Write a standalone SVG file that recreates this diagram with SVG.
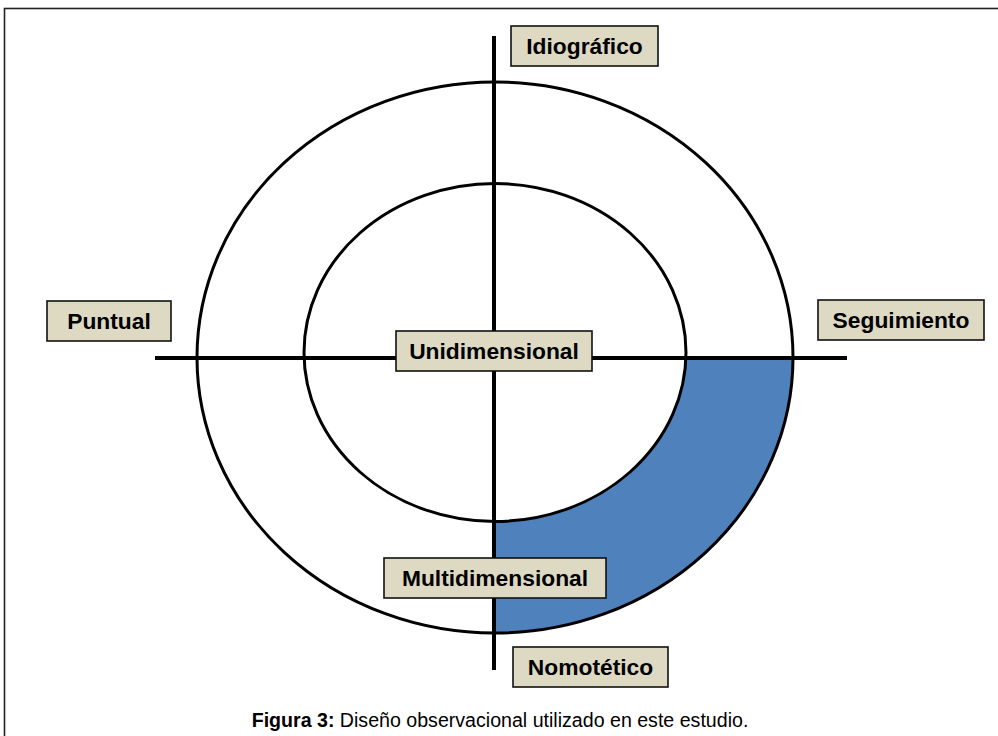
<svg xmlns="http://www.w3.org/2000/svg" width="998" height="736" viewBox="0 0 998 736">
<style>
.lbl rect{fill:#DDD9C3;stroke:#111;stroke-width:1.6}
.lbl text{font-family:"Liberation Sans",Arial,sans-serif;font-weight:bold;font-size:22.8px;fill:#000;text-anchor:middle}
.ax{stroke:#000;stroke-width:4;fill:none}
.ring{stroke:#000;stroke-width:3;fill:none}
</style>
<rect x="0" y="0" width="998" height="736" fill="#fff"/>
<rect x="4.5" y="8.5" width="1010" height="800" fill="none" stroke="#222" stroke-width="1.6"/>
<g id="shade">
<path d="M686 358 L793 358 A298 275.5 0 0 1 494 633 L494 521 A191.5 169 0 0 0 686 358 Z" fill="#4F81BD"/>
</g>
<g id="rings">
<ellipse class="ring" cx="495" cy="357.5" rx="298" ry="275.5"/>
<ellipse class="ring" cx="495" cy="352.5" rx="191" ry="169"/>
</g>
<g id="connectors">
<line class="ax" x1="494" y1="36" x2="494" y2="670"/>
<line class="ax" x1="155" y1="358" x2="847" y2="358"/>
</g>
<g id="idiografico" class="lbl"><rect x="511" y="26" width="147" height="40"/><text x="584.5" y="54">Idiográfico</text></g>
<g id="puntual" class="lbl"><rect x="47" y="301" width="124" height="40"/><text x="109" y="329">Puntual</text></g>
<g id="seguimiento" class="lbl"><rect x="818" y="300" width="166" height="40"/><text x="901" y="328">Seguimiento</text></g>
<g id="unidimensional" class="lbl"><rect x="396" y="331" width="196" height="40"/><text x="494" y="359">Unidimensional</text></g>
<g id="multidimensional" class="lbl"><rect x="384" y="558" width="222" height="40"/><text x="495" y="586">Multidimensional</text></g>
<g id="nomotetico" class="lbl"><rect x="513" y="647" width="155" height="40"/><text x="590.5" y="675">Nomotético</text></g>
<text x="500" y="727" font-family="'Liberation Sans',Arial,sans-serif" font-size="19.6" text-anchor="middle"><tspan font-weight="bold">Figura 3:</tspan> Diseño observacional utilizado en este estudio.</text>
</svg>
